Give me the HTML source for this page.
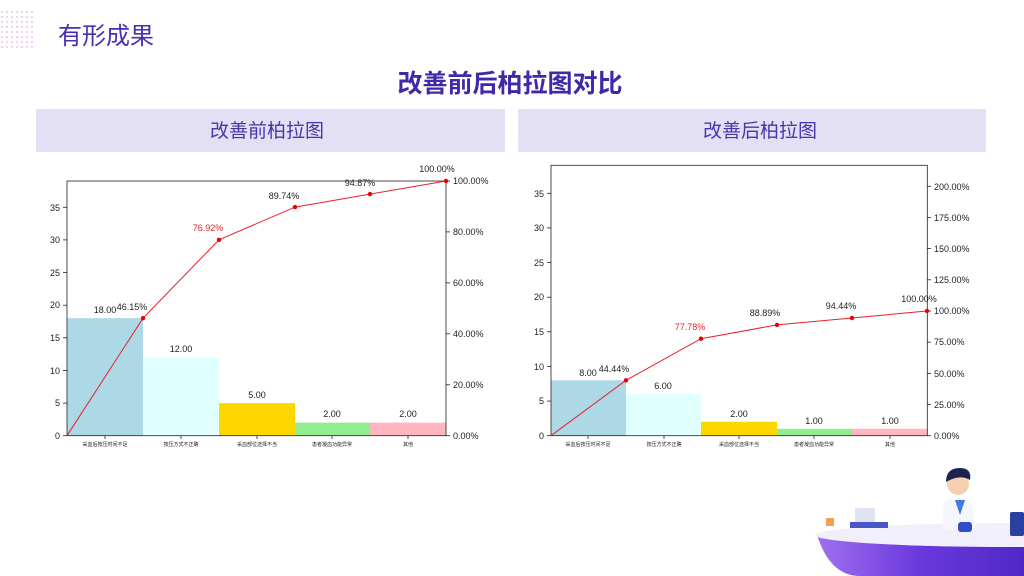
<!DOCTYPE html>
<html><head><meta charset="utf-8"><style>
html,body{margin:0;padding:0;width:1024px;height:576px;overflow:hidden}
body{background:#fff;position:relative;font-family:"Liberation Sans","Noto Sans CJK SC",sans-serif}
svg{display:block}
</style></head><body>
<svg width="1024" height="576" viewBox="0 0 1024 576" style="position:absolute;left:0;top:0;overflow:hidden" font-family="Liberation Sans, Noto Sans CJK SC, sans-serif">
<defs>
<pattern id="dots" width="5" height="5" patternUnits="userSpaceOnUse"><circle cx="2" cy="2" r="1" fill="#f0c0f0"/></pattern>
<linearGradient id="cnt" x1="0" y1="0" x2="1" y2="0"><stop offset="0" stop-color="#a070f0"/><stop offset="0.5" stop-color="#6a38dc"/><stop offset="1" stop-color="#5028c8"/></linearGradient>
<clipPath id="frame"><rect x="0" y="0" width="1024" height="576"/></clipPath>
</defs>
<rect x="0" y="10" width="36" height="38" fill="url(#dots)"/>
<text x="58" y="44" font-size="24" fill="#4a2fae">有形成果</text>
<text x="510" y="92" font-size="25" font-weight="bold" fill="#4028a8" text-anchor="middle">改善前后柏拉图对比</text>
<rect x="36" y="109" width="469" height="43" fill="#e3e0f5"/>
<rect x="518" y="109" width="468" height="43" fill="#e3e0f5"/>
<text x="267" y="137" font-size="19" fill="#4a35a8" text-anchor="middle">改善前柏拉图</text>
<text x="760" y="137" font-size="19" fill="#4a35a8" text-anchor="middle">改善后柏拉图</text>

<g font-size="9" fill="#222">
<rect x="67" y="318.2" width="76" height="117.5" fill="#add8e6"/>
<rect x="143" y="357.4" width="76" height="78.3" fill="#e0ffff"/>
<rect x="219" y="403.1" width="76" height="32.6" fill="#ffd700"/>
<rect x="295" y="422.6" width="75" height="13.1" fill="#90ee90"/>
<rect x="370" y="422.6" width="76" height="13.1" fill="#ffb6c1"/>
<rect x="67" y="181" width="379" height="254.7" fill="none" stroke="#222" stroke-width="0.8"/>
<g stroke="#222" stroke-width="0.8">
<line x1="63" y1="435.7" x2="67" y2="435.7"/><line x1="63" y1="403.1" x2="67" y2="403.1"/><line x1="63" y1="370.4" x2="67" y2="370.4"/><line x1="63" y1="337.8" x2="67" y2="337.8"/><line x1="63" y1="305.2" x2="67" y2="305.2"/><line x1="63" y1="272.6" x2="67" y2="272.6"/><line x1="63" y1="239.9" x2="67" y2="239.9"/><line x1="63" y1="207.3" x2="67" y2="207.3"/>
<line x1="446" y1="435.7" x2="450" y2="435.7"/><line x1="446" y1="384.8" x2="450" y2="384.8"/><line x1="446" y1="333.8" x2="450" y2="333.8"/><line x1="446" y1="282.9" x2="450" y2="282.9"/><line x1="446" y1="231.9" x2="450" y2="231.9"/><line x1="446" y1="181" x2="450" y2="181"/>
<line x1="105" y1="435.7" x2="105" y2="439"/><line x1="181" y1="435.7" x2="181" y2="439"/><line x1="257" y1="435.7" x2="257" y2="439"/><line x1="332" y1="435.7" x2="332" y2="439"/><line x1="408" y1="435.7" x2="408" y2="439"/>
</g>
<g text-anchor="end"><text x="60" y="439">0</text><text x="60" y="406">5</text><text x="60" y="374">10</text><text x="60" y="341">15</text><text x="60" y="308">20</text><text x="60" y="276">25</text><text x="60" y="243">30</text><text x="60" y="211">35</text></g>
<text x="453" y="439">0.00%</text><text x="453" y="388">20.00%</text><text x="453" y="337">40.00%</text><text x="453" y="286">60.00%</text><text x="453" y="235">80.00%</text><text x="453" y="184">100.00%</text>
<g font-size="5" text-anchor="middle"><text x="105" y="446">采血后按压时间不足</text><text x="181" y="446">按压方式不正确</text><text x="257" y="446">采血部位选择不当</text><text x="332" y="446">患者凝血功能异常</text><text x="408" y="446">其他</text></g>
<g text-anchor="middle"><text x="105" y="313">18.00</text><text x="181" y="352">12.00</text><text x="257" y="398">5.00</text><text x="332" y="417">2.00</text><text x="408" y="417">2.00</text></g>
<polyline points="67,435.7 143,318.2 219,239.8 295,207.1 370,194.1 446,181" fill="none" stroke="#e8202a" stroke-width="1"/>
<g fill="#e00"><circle cx="143" cy="318.2" r="2.2"/><circle cx="219" cy="239.8" r="2.2"/><circle cx="295" cy="207.1" r="2.2"/><circle cx="370" cy="194.1" r="2.2"/><circle cx="446" cy="181" r="2.2"/></g>
<g text-anchor="middle"><text x="132" y="310">46.15%</text><text x="208" y="231" fill="#e8202a">76.92%</text><text x="284" y="199">89.74%</text><text x="360" y="186">94.87%</text><text x="437" y="172">100.00%</text></g>
</g>

<g font-size="9" fill="#222">
<rect x="551" y="380.3" width="75" height="55.4" fill="#add8e6"/>
<rect x="626" y="394.1" width="75" height="41.6" fill="#e0ffff"/>
<rect x="701" y="421.8" width="76" height="13.9" fill="#ffd700"/>
<rect x="777" y="428.8" width="75" height="6.9" fill="#90ee90"/>
<rect x="852" y="428.8" width="75" height="6.9" fill="#ffb6c1"/>
<rect x="551" y="165.3" width="376.3" height="270.4" fill="none" stroke="#222" stroke-width="0.8"/>
<g stroke="#222" stroke-width="0.8">
<line x1="547" y1="435.7" x2="551" y2="435.7"/><line x1="547" y1="401.1" x2="551" y2="401.1"/><line x1="547" y1="366.4" x2="551" y2="366.4"/><line x1="547" y1="331.8" x2="551" y2="331.8"/><line x1="547" y1="297.2" x2="551" y2="297.2"/><line x1="547" y1="262.5" x2="551" y2="262.5"/><line x1="547" y1="227.9" x2="551" y2="227.9"/><line x1="547" y1="193.3" x2="551" y2="193.3"/>
<line x1="927" y1="435.7" x2="931" y2="435.7"/><line x1="927" y1="404.5" x2="931" y2="404.5"/><line x1="927" y1="373.4" x2="931" y2="373.4"/><line x1="927" y1="342.2" x2="931" y2="342.2"/><line x1="927" y1="311" x2="931" y2="311"/><line x1="927" y1="279.8" x2="931" y2="279.8"/><line x1="927" y1="248.6" x2="931" y2="248.6"/><line x1="927" y1="217.5" x2="931" y2="217.5"/><line x1="927" y1="186.3" x2="931" y2="186.3"/>
<line x1="588" y1="435.7" x2="588" y2="439"/><line x1="664" y1="435.7" x2="664" y2="439"/><line x1="739" y1="435.7" x2="739" y2="439"/><line x1="814" y1="435.7" x2="814" y2="439"/><line x1="890" y1="435.7" x2="890" y2="439"/>
</g>
<g text-anchor="end"><text x="544" y="439">0</text><text x="544" y="404">5</text><text x="544" y="370">10</text><text x="544" y="335">15</text><text x="544" y="300">20</text><text x="544" y="266">25</text><text x="544" y="231">30</text><text x="544" y="197">35</text></g>
<text x="934" y="439">0.00%</text><text x="934" y="408">25.00%</text><text x="934" y="377">50.00%</text><text x="934" y="345">75.00%</text><text x="934" y="314">100.00%</text><text x="934" y="283">125.00%</text><text x="934" y="252">150.00%</text><text x="934" y="221">175.00%</text><text x="934" y="190">200.00%</text>
<g font-size="5" text-anchor="middle"><text x="588" y="446">采血后按压时间不足</text><text x="664" y="446">按压方式不正确</text><text x="739" y="446">采血部位选择不当</text><text x="814" y="446">患者凝血功能异常</text><text x="890" y="446">其他</text></g>
<g text-anchor="middle"><text x="588" y="376">8.00</text><text x="663" y="389">6.00</text><text x="739" y="417">2.00</text><text x="814" y="424">1.00</text><text x="890" y="424">1.00</text></g>
<polyline points="551,435.7 626,380.3 701,338.7 777,324.9 852,318 927,311" fill="none" stroke="#e8202a" stroke-width="1"/>
<g fill="#e00"><circle cx="626" cy="380.3" r="2.2"/><circle cx="701" cy="338.7" r="2.2"/><circle cx="777" cy="324.9" r="2.2"/><circle cx="852" cy="318" r="2.2"/><circle cx="927" cy="311" r="2.2"/></g>
<g text-anchor="middle"><text x="614" y="372">44.44%</text><text x="690" y="330" fill="#e8202a">77.78%</text><text x="765" y="316">88.89%</text><text x="841" y="309">94.44%</text><text x="919" y="302">100.00%</text></g>
</g>

<g clip-path="url(#frame)">
<path d="M817,535 Q830,576 860,576 L1024,576 L1024,545 Q900,550 817,535Z" fill="url(#cnt)"/>
<ellipse cx="1010" cy="535" rx="195" ry="12" fill="#f1effa"/>
</g>
<rect x="855" y="508" width="20" height="14" fill="#dde3f0"/>
<rect x="850" y="522" width="38" height="6" fill="#4a55c8"/>
<rect x="826" y="518" width="8" height="8" fill="#f0a050"/>
<rect x="1010" y="512" width="14" height="24" rx="2" fill="#2a40a0"/>
<circle cx="958" cy="484" r="11" fill="#f5d0b0"/>
<path d="M946,482 Q946,468 960,468 Q972,468 970,480 Q960,474 946,482Z" fill="#1a2250"/>
<path d="M942,530 L944,502 Q958,494 972,502 L976,530Z" fill="#f4f6fb"/>
<path d="M955,500 L960,515 L965,500Z" fill="#3b7de0"/>
<rect x="958" y="522" width="14" height="10" rx="3" fill="#3050c8"/>
</svg>
</body></html>
